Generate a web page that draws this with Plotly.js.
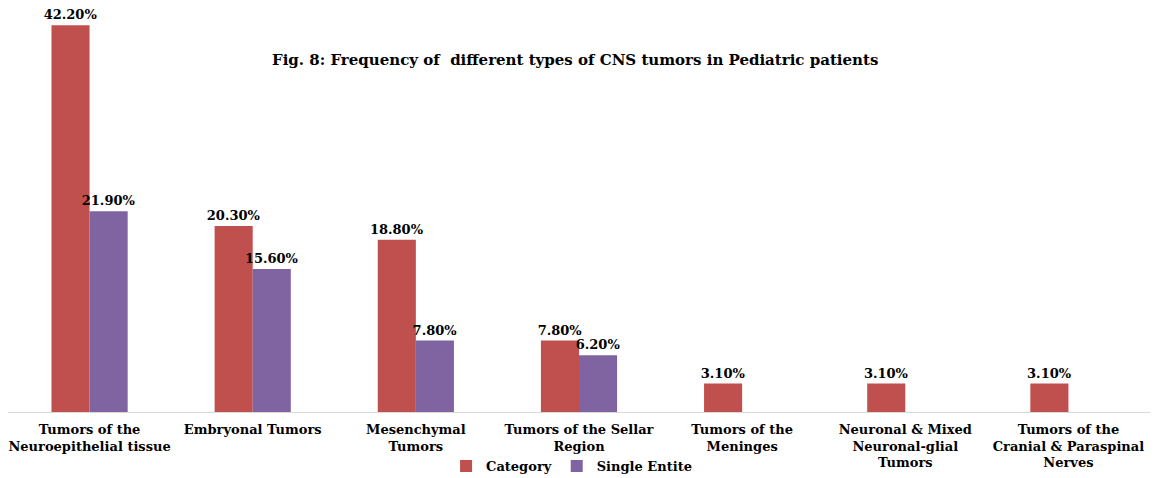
<!DOCTYPE html>
<html>
<head>
<meta charset="utf-8">
<script src="https://cdn.plot.ly/plotly-3.0.1.min.js"></script>
<style>html,body{margin:0;padding:0;background:#fff;}#chart{width:1161px;height:478px;}</style>
</head>
<body>
<div id="chart"></div>
<script>
const categories = [
  "Tumors of the<br>Neuroepithelial tissue",
  "Embryonal Tumors",
  "Mesenchymal<br>Tumors",
  "Tumors of the Sellar<br>Region",
  "Tumors of the<br>Meninges",
  "Neuronal & Mixed<br>Neuronal-glial<br>Tumors",
  "Tumors of the<br>Cranial & Paraspinal<br>Nerves"
];
const categoryValues = [42.2, 20.3, 18.8, 7.8, 3.1, 3.1, 3.1];
const singleEntiteValues = [21.9, 15.6, 7.8, 6.2, null, null, null];
const seriesNames = ["Category", "Single Entite"];
const titleText = "Fig. 8: Frequency of&nbsp; different types of CNS tumors in Pediatric patients";

const serif = "'DejaVu Serif', 'Liberation Serif', serif";
const labelFont = {family: serif, size: 13, color: '#000', weight: 'bold'};

const mk = (vals, name, color) => ({
  type: 'bar',
  x: categories,
  y: vals,
  name: name,
  marker: {color: color, line: {width: 0}},
  text: vals.map(v => v == null ? '' : v.toFixed(2) + '%'),
  texttemplate: '%{text}',
  textposition: 'outside',
  constraintext: 'none',
  cliponaxis: false,
  textfont: labelFont,
  hoverinfo: 'skip'
});

const data = [
  mk(categoryValues, seriesNames[0], '#C0504D'),
  mk(singleEntiteValues, seriesNames[1], '#8064A2')
];

const layout = {
  width: 1161, height: 478,
  margin: {l: 8, r: 11, t: 5, b: 66, autoexpand: false},
  paper_bgcolor: '#fff', plot_bgcolor: '#fff',
  barmode: 'group',
  bargap: 0.533,
  bargroupgap: 0,
  showlegend: true,
  legend: {
    orientation: 'h', x: 0.4935, xanchor: 'center', y: -0.133, yanchor: 'middle',
    bgcolor: 'rgba(0,0,0,0)',
    font: labelFont, traceorder: 'normal', itemwidth: 30
  },
  xaxis: {
    type: 'category',
    automargin: false,
    showline: true, linecolor: '#D9D9D9', linewidth: 1,
    ticks: '', showgrid: false, zeroline: false,
    tickangle: 0,
    ticklabelstandoff: 5,
    tickfont: labelFont
  },
  yaxis: {
    range: [0, 44.4],
    automargin: false,
    showticklabels: false, showgrid: false, zeroline: false, showline: false, ticks: ''
  },
  annotations: [{
    text: titleText,
    xref: 'paper', yref: 'paper',
    x: 0.4965, y: (412 - 60) / 407, xanchor: 'center', yanchor: 'middle',
    showarrow: false,
    font: {family: serif, size: 15, color: '#000', weight: 'bold'}
  }]
};

Plotly.newPlot('chart', data, layout, {displayModeBar: false, staticPlot: true});
</script>
</body>
</html>
